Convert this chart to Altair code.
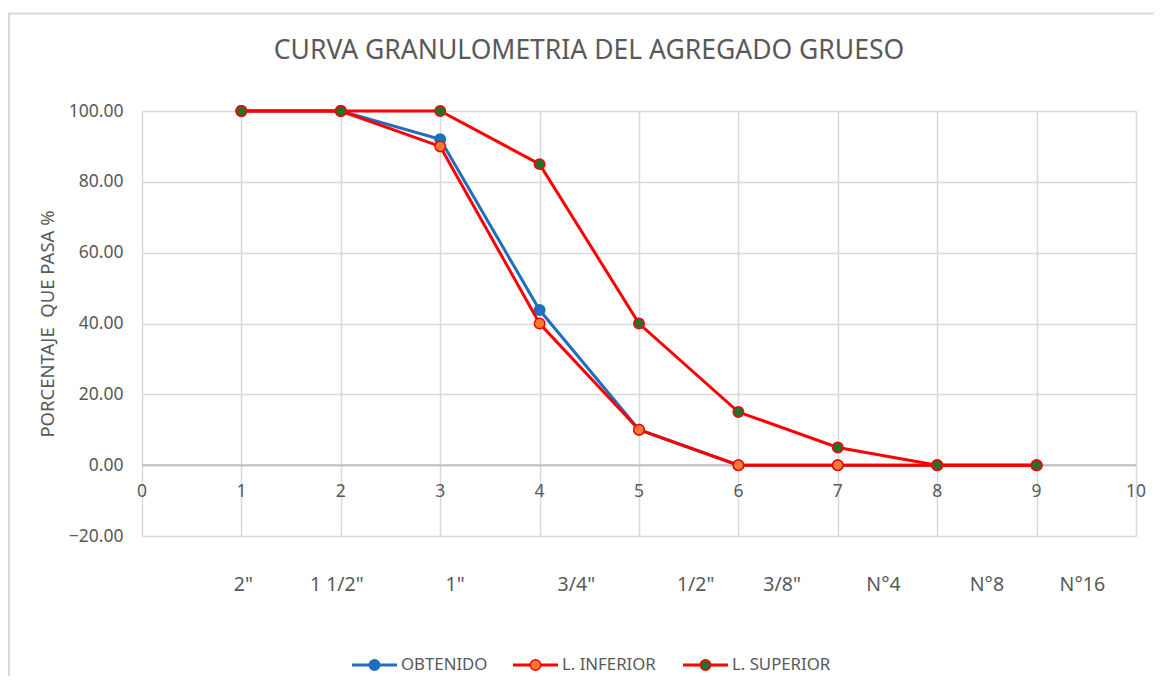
import altair as alt
import pandas as pd

# ---- data ----
tamiz_x = [1, 2, 3, 4, 5, 6, 7, 8, 9]
obtenido = [100, 100, 92.0, 43.8, 10.0, 0, 0, 0, 0]
inferior = [100, 100, 90, 40, 10, 0, 0, 0, 0]
superior = [100, 100, 100, 85, 40, 15, 5, 0, 0]
series_names = ["OBTENIDO", "L. INFERIOR", "L. SUPERIOR"]
tamiz_labels = ['2"', '1 1/2"', '1"', '3/4"', '1/2"', '3/8"', 'N°4', 'N°8', 'N°16']
tamiz_label_x = [1.02, 1.96, 3.15, 4.37, 5.57, 6.44, 7.46, 8.50, 9.46]
x_ticks = list(range(0, 11))
y_ticks = [-20, 0, 20, 40, 60, 80, 100]
title_text = "CURVA GRANULOMETRIA DEL AGREGADO GRUESO"
y_title = "PORCENTAJE\u00a0 QUE PASA %"

# ---- styling ----
FONT = "Noto Sans"
TXT = "#595959"
GRID = "#D9D9D9"
W, H = 994, 425
line_colors = ["#1F6EBF", "#FF0000", "#FF0000"]
fill_colors = ["#1F6EBF", "#ED7D31", "#22702A"]
point_strokes = ["#1F6EBF", "#FF0000", "#FF0000"]

xscale = alt.Scale(domain=[0, 10], nice=False, zero=False)
yscale = alt.Scale(domain=[-20, 100], nice=False, zero=False)

x_axis = alt.Axis(values=x_ticks, grid=True, gridColor=GRID, gridWidth=1.5,
                  labels=False, ticks=False, domain=False, title=None)
y_axis = alt.Axis(values=y_ticks, grid=True, gridColor=GRID, gridWidth=1.5,
                  format=".2f", labelFont=FONT, labelFontSize=17.5, labelColor=TXT,
                  labelPadding=19, ticks=False, domain=False,
                  title=y_title, titleFont=FONT, titleFontSize=18.5, titleColor=TXT,
                  titleFontWeight="normal", titleAngle=270, titleX=-95, titleY=H / 2,
                  titleAlign="center", titleBaseline="middle")


def X(field="x"):
    return alt.X(f"{field}:Q", scale=xscale, axis=x_axis)


def Y(field="y"):
    return alt.Y(f"{field}:Q", scale=yscale, axis=y_axis)


one = alt.Data(values=[{}])
layers = []

# zero line
zero_df = pd.DataFrame({"y": [0]})
layers.append(alt.Chart(zero_df).mark_rule(color="#BFBFBF", strokeWidth=2).encode(y=Y()))

# x tick labels at the zero line
xl_df = pd.DataFrame({"x": x_ticks, "y": [0] * len(x_ticks)})
layers.append(alt.Chart(xl_df).mark_text(font=FONT, fontSize=17.5, color=TXT, dy=27,
                                         baseline="middle").encode(
    x=X(), y=Y(), text=alt.Text("x:Q", format="d")))

# series
all_vals = [obtenido, inferior, superior]
for i, name in enumerate(series_names):
    df = pd.DataFrame({"x": tamiz_x, "y": all_vals[i], "serie": name})
    base = alt.Chart(df)
    layers.append(base.mark_line(color=line_colors[i], strokeWidth=3).encode(x=X(), y=Y()))
    layers.append(base.mark_point(filled=True, size=110, fill=fill_colors[i], opacity=1,
                                  stroke=point_strokes[i], strokeWidth=1.5, shape="circle").encode(
        x=X(), y=Y()))

# sieve labels below the plot
sl_df = pd.DataFrame({"x": tamiz_label_x, "lab": tamiz_labels})
layers.append(alt.Chart(sl_df).mark_text(font=FONT, fontSize=19.5, color=TXT, baseline="middle").encode(
    x=X(), y=alt.value(474), text="lab:N"))

# title
layers.append(alt.Chart(one).mark_text(font=FONT, fontSize=26.5, color=TXT, baseline="middle",
                                       align="center", text=title_text).encode(
    x=alt.value(447), y=alt.value(-60)))

# chart frame (top and left edges)
layers.append(alt.Chart(one).mark_rule(color=GRID, strokeWidth=2).encode(
    x=alt.value(-134), x2=alt.value(1022), y=alt.value(-97.5)))
layers.append(alt.Chart(one).mark_rule(color=GRID, strokeWidth=2).encode(
    x=alt.value(-133), y=alt.value(-98), y2=alt.value(580)))

# manual legend
leg_line_start = [352, 513, 683]
for i, name in enumerate(series_names):
    x0 = leg_line_start[i] - 142
    ly = 554
    layers.append(alt.Chart(one).mark_rule(color=line_colors[i], strokeWidth=3).encode(
        x=alt.value(x0), x2=alt.value(x0 + 45), y=alt.value(ly)))
    layers.append(alt.Chart(one).mark_point(filled=True, size=110, fill=fill_colors[i], opacity=1,
                                            stroke=point_strokes[i], strokeWidth=1.5,
                                            shape="circle").encode(
        x=alt.value(x0 + 22.5), y=alt.value(ly)))
    layers.append(alt.Chart(one).mark_text(font=FONT, fontSize=16.8, color=TXT, align="left",
                                           baseline="middle", text=name).encode(
        x=alt.value(x0 + 49), y=alt.value(ly)))

chart = alt.layer(*layers).properties(
    width=W, height=H,
    autosize=alt.AutoSizeParams(type="none"),
    padding={"left": 134, "top": 103, "right": 18, "bottom": 140},
    background="white",
).configure_view(strokeWidth=0)

chart.save("out.html", embed_options={"renderer": "svg", "actions": False})
